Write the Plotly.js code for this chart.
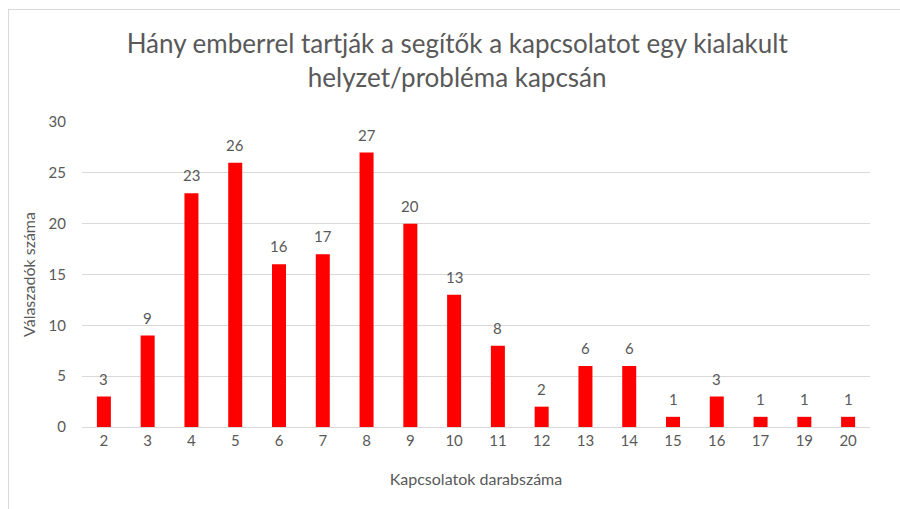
<!DOCTYPE html>
<html><head><meta charset="utf-8">
<script src="https://cdn.plot.ly/plotly-3.0.1.min.js"></script>
<style>
html,body{margin:0;padding:0;background:#fff;}
#wrap{position:relative;width:900px;height:509px;}
#chart{width:900px;height:509px;}
#frame{position:absolute;left:8px;top:9px;width:900px;height:509px;border-left:1px solid #d9d9d9;border-top:1px solid #d9d9d9;pointer-events:none;}
</style></head>
<body><div id="wrap"><div id="chart"></div><div id="frame"></div></div>
<script>
const categories = ["2","3","4","5","6","7","8","9","10","11","12","13","14","15","16","17","19","20"];
const counts = [3,9,23,26,16,17,27,20,13,8,2,6,6,1,3,1,1,1];
const titleText = "Hány emberrel tartják a segítők a kapcsolatot egy kialakult<br>helyzet/probléma kapcsán";
const xTitle = "Kapcsolatok darabszáma";
const yTitle = "Válaszadók száma";
const yTicks = [0,5,10,15,20,25,30];

const fontFam = "Lato, 'Open Sans', sans-serif";
const gray = "#595959";

// category axis: annotation x given as the category index
const labels = categories.map((c, i) => ({
  x: i, y: counts[i], xref: "x", yref: "y",
  text: String(counts[i]), showarrow: false,
  yanchor: "bottom", yshift: 7,
  font: {family: fontFam, size: 15, color: gray}
}));

Plotly.newPlot("chart", [{
  type: "bar",
  x: categories,
  y: counts,
  marker: {color: "#ff0000"},
  hoverinfo: "x+y"
}], {
  width: 900, height: 509,
  margin: {l: 82, r: 30, t: 122, b: 82},
  paper_bgcolor: "#fff", plot_bgcolor: "#fff",
  bargap: 0.68,
  showlegend: false,
  annotations: labels,
  title: {text: titleText, font: {family: fontFam, size: 26, color: gray}, x: 0.508, xref: "container", xanchor: "center", y: 0.895, yref: "container", yanchor: "top"},
  xaxis: {
    type: "category",
    title: {text: xTitle, font: {family: fontFam, size: 16, color: gray}, standoff: 25},
    tickfont: {family: fontFam, size: 15, color: gray},
    showline: true, linecolor: "#d9d9d9", linewidth: 1,
    ticks: "", showgrid: false, zeroline: false, ticklen: 0
  },
  yaxis: {
    range: [0, 30],
    tickvals: yTicks,
    title: {text: yTitle, font: {family: fontFam, size: 16, color: gray}, standoff: 8},
    tickfont: {family: fontFam, size: 15, color: gray},
    gridcolor: "#d9d9d9", gridwidth: 1,
    zeroline: false, showline: false, ticks: "outside", ticklen: 12, tickcolor: "rgba(0,0,0,0)"
  }
}, {staticPlot: true});
</script></body></html>
